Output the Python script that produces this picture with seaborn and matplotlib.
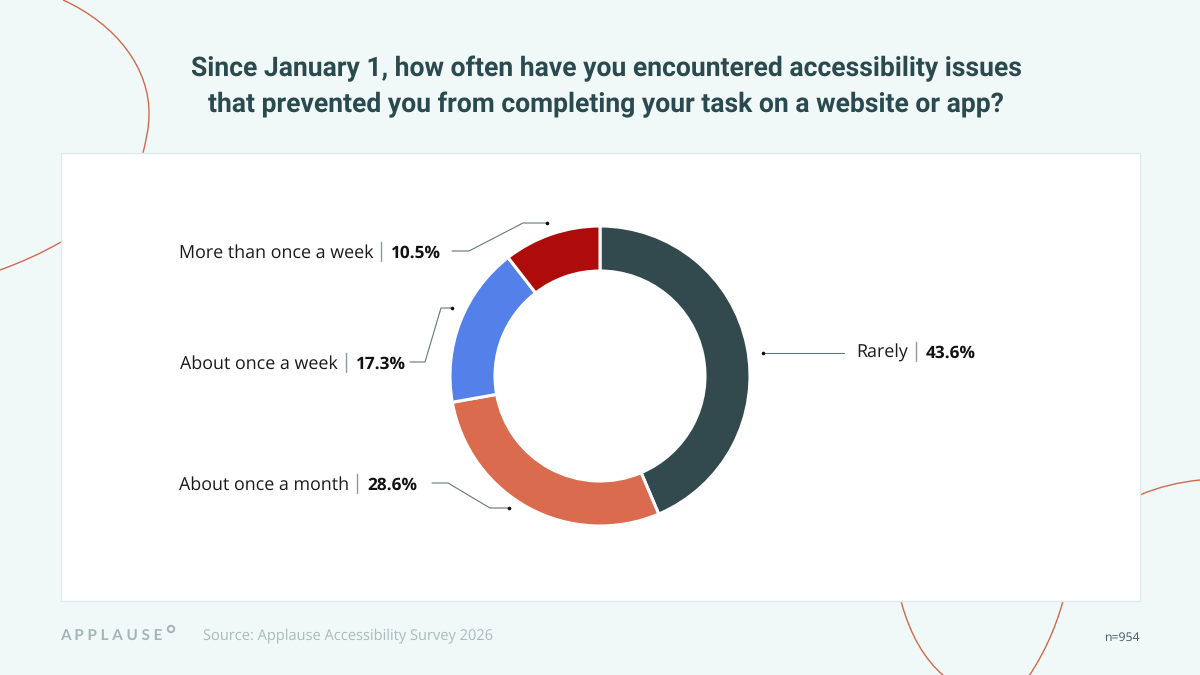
import matplotlib
matplotlib.use("Agg")
import matplotlib.pyplot as plt
import seaborn as sns
from matplotlib.patches import PathPatch, Rectangle, Circle
from matplotlib.path import Path

categories = ["Rarely", "About once a month", "About once a week", "More than once a week"]
values = [43.6, 28.6, 17.3, 10.5]
colors = ["#32494E", "#DB6B4E", "#5480EA", "#AE0B0B"]
title_lines = ["Since January 1, how often have you encountered accessibility issues",
               "that prevented you from completing your task on a website or app?"]
source = "Source: Applause Accessibility Survey 2026"
n_label = "n=954"

sns.set_theme(style="white")
plt.rcParams['font.family'] = ['Open Sans', 'DejaVu Sans']
plt.rcParams['text.hinting'] = 'none'

BG = "#F1F8F8"
W, H = 1200, 675
fig = plt.figure(figsize=(12, 6.75), dpi=100, facecolor=BG)

ov = fig.add_axes([0, 0, 1, 1], zorder=1)
ov.set_xlim(0, W); ov.set_ylim(H, 0); ov.axis("off")

def curve(verts):
    codes = [Path.MOVETO] + [Path.CURVE4] * (len(verts) - 1)
    ov.add_patch(PathPatch(Path(verts, codes), fc="none", ec="#CF6A50", lw=1.0, zorder=1))

curve([(63, 0), (118, 25), (150, 70), (149, 115), (149, 128), (146, 140), (143, 153)])
curve([(0, 270), (22, 262), (42, 253), (61, 242)])
curve([(1140, 495), (1158, 487), (1180, 482), (1200, 480)])
curve([(901, 601), (910, 635), (925, 660), (944, 676)])
curve([(1063, 601), (1055, 630), (1043, 655), (1029, 676)])

ov.add_patch(Rectangle((60.5, 152.5), 1079, 448.5, fc="white", ec="#E0E9EB", lw=1, zorder=2))

for y, line in zip([69, 105], title_lines):
    ov.text(606, y, line, ha="center", va="center", fontsize=19.1, fontweight="bold",
            color="#2A4A4F", zorder=5, family="Roboto")

# donut
cx, cy, r = 600, 376, 150
ax = fig.add_axes([(cx - r) / W, 1 - (cy + r) / H, 2 * r / W, 2 * r / H], zorder=3)
ax.pie(values, colors=colors, startangle=90, counterclock=False, radius=1,
       wedgeprops=dict(width=0.3, edgecolor="white", linewidth=2.2))
ax.set_xlim(-1, 1); ax.set_ylim(-1, 1); ax.set_aspect("equal"); ax.axis("off")

ov2 = fig.add_axes([0, 0, 1, 1], zorder=4)
ov2.set_xlim(0, W); ov2.set_ylim(H, 0); ov2.axis("off"); ov2.patch.set_alpha(0)

leaders = [
    [(844, 353), (763, 353)],
    [(432, 483), (448, 483), (490, 508), (509, 508)],
    [(410, 362), (425, 362), (441, 308), (452, 308)],
    [(452, 251), (469, 251), (523, 223), (547, 223)],
]
for pts in leaders:
    xs, ys = zip(*pts)
    ov2.plot(xs, ys, color="#66767A", lw=0.8)
    ov2.plot(xs[-1], ys[-1], "o", color="#111111", ms=1.6)

label_pos = [(856, 353, 916, 926), (179, 485, 357, 367), (180, 364, 346, 356), (179, 253, 381, 391)]
for cat, v, (x, y, xbar, xval) in zip(categories, values, label_pos):
    ov2.text(x, y, cat, ha="left", va="center", fontsize=12.9, color="#1A1A1A")
    ov2.text(xbar, y - 1, "|", ha="center", va="center", fontsize=14.5, color="#8A9A9C")
    ov2.text(xval, y, f"{v}%", ha="left", va="center", fontsize=12.4, fontweight="bold", color="#111111")

ov2.text(60, 637, "A P P L A U S E", ha="left", va="center", fontsize=11, color="#A3B5B5",
         family="Lato", fontweight="bold")
ov2.add_patch(Circle((171, 629), 3.2, fc="none", ec="#A3B5B5", lw=1.4))
ov2.text(203, 636, source, ha="left", va="center", fontsize=10.5, color="#A9BBBB")
ov2.text(1140, 638, n_label, ha="right", va="center", fontsize=8.8, color="#3E5A5E")

fig.savefig("out.png", dpi=100, facecolor=BG)
